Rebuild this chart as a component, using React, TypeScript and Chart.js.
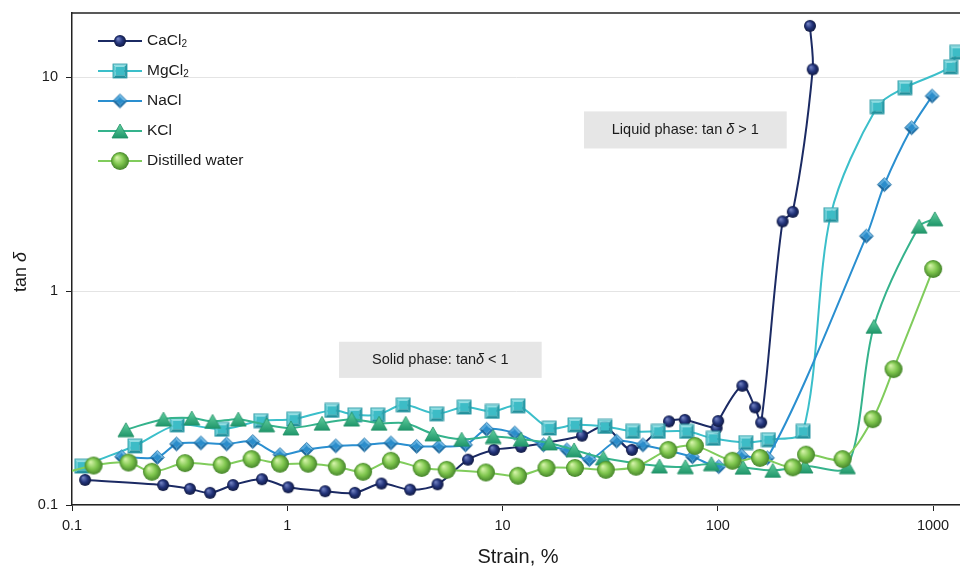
import React, { useEffect, useRef } from 'react';
import { Chart, registerables } from 'chart.js';
Chart.register(...registerables);

const FONT = '"Liberation Sans", Arial, Helvetica, sans-serif';

// ---- Data ----
const caX = [0.115, 0.265, 0.353, 0.438, 0.56, 0.763, 1.01, 1.5, 2.06, 2.74, 3.72, 4.99, 6.91, 9.12, 12.2, 23.4, 29.9, 39.9, 59.3, 70.3, 98.7, 100.4, 130, 149, 159, 200, 223, 276, 268];
const caY = [0.131, 0.124, 0.119, 0.114, 0.124, 0.132, 0.121, 0.116, 0.114, 0.126, 0.118, 0.125, 0.163, 0.181, 0.187, 0.211, 0.233, 0.181, 0.246, 0.25, 0.229, 0.247, 0.361, 0.286, 0.243, 2.12, 2.35, 10.9, 17.4];

const mgX = [0.111, 0.196, 0.308, 0.496, 0.753, 1.07, 1.61, 2.06, 2.63, 3.46, 4.94, 6.64, 8.96, 11.8, 16.5, 21.7, 29.9, 40.2, 52.9, 71.6, 95.2, 135, 172, 249, 335, 550, 740, 1206, 1286];
const mgY = [0.152, 0.189, 0.237, 0.226, 0.248, 0.252, 0.277, 0.264, 0.264, 0.294, 0.267, 0.287, 0.274, 0.291, 0.229, 0.237, 0.233, 0.221, 0.221, 0.221, 0.205, 0.196, 0.202, 0.221, 2.28, 7.29, 8.95, 11.2, 13.1];

const naX = [0.17, 0.249, 0.306, 0.397, 0.523, 0.691, 0.925, 1.23, 1.68, 2.28, 3.03, 3.99, 5.07, 6.73, 8.44, 11.4, 15.5, 19.9, 25.3, 33.9, 44.9, 76.2, 101, 129, 170, 490, 594, 795, 990];
const naY = [0.168, 0.167, 0.193, 0.195, 0.193, 0.198, 0.172, 0.182, 0.189, 0.191, 0.195, 0.188, 0.188, 0.191, 0.226, 0.217, 0.191, 0.181, 0.163, 0.199, 0.191, 0.168, 0.151, 0.17, 0.166, 1.81, 3.15, 5.81, 8.18];

const kX = [0.178, 0.266, 0.36, 0.45, 0.592, 0.802, 1.04, 1.45, 1.99, 2.67, 3.55, 4.75, 6.46, 9.05, 12.2, 16.5, 21.5, 29.4, 53.6, 70.7, 93.4, 131, 180, 254, 400, 531, 862, 1019];
const kY = [0.225, 0.252, 0.255, 0.246, 0.252, 0.237, 0.229, 0.241, 0.252, 0.241, 0.241, 0.215, 0.203, 0.209, 0.203, 0.195, 0.181, 0.166, 0.152, 0.151, 0.156, 0.15, 0.145, 0.152, 0.151, 0.684, 2.01, 2.18];

const wX = [0.085, 0.126, 0.183, 0.235, 0.335, 0.496, 0.683, 0.925, 1.25, 1.7, 2.25, 3.03, 4.21, 5.5, 8.37, 11.8, 16.0, 21.7, 30.2, 41.7, 58.9, 78.3, 117, 157, 223, 257, 380, 524, 655, 1001];
const wY = [0.138, 0.153, 0.158, 0.143, 0.157, 0.154, 0.164, 0.156, 0.156, 0.151, 0.143, 0.161, 0.149, 0.146, 0.142, 0.137, 0.149, 0.149, 0.146, 0.151, 0.181, 0.189, 0.161, 0.166, 0.15, 0.172, 0.164, 0.252, 0.432, 1.27];

const seriesNames = ['CaCl', 'MgCl', 'NaCl', 'KCl', 'Distilled water'];
const seriesSubs = ['2', '2', '', '', ''];
const xTicks = [0.1, 1, 10, 100, 1000];
const yTicks = [0.1, 1, 10];
const xRange = [0.1, 1334];
const yRange = [0.1, 20];
const liquidBox = { x: [23.9, 209], y: [4.65, 6.93] };
const solidBox = { x: [1.74, 15.2], y: [0.393, 0.58] };

const colors = ['#1b2a63', '#3bbfca', '#2a8fd0', '#35b38c', '#80cc5c'];

function mk(w: number, h: number) {
  const c = document.createElement('canvas');
  c.width = w; c.height = h;
  return c;
}

function sphere(d: number, light: string, mid: string, dark: string) {
  const s = d + 2;
  const c = mk(s, s);
  const ctx = c.getContext('2d')!;
  const cx = s / 2, r = d / 2;
  const g = ctx.createRadialGradient(cx - r * 0.35, cx - r * 0.4, r * 0.05, cx, cx, r);
  g.addColorStop(0, light);
  g.addColorStop(0.55, mid);
  g.addColorStop(1, dark);
  ctx.beginPath();
  ctx.arc(cx, cx, r, 0, Math.PI * 2);
  ctx.fillStyle = g;
  ctx.fill();
  return c;
}

function bevel(side: number, rot: boolean, base: string, top: string, left: string, right: string, bottom: string, edge: string) {
  const diag = rot ? side * Math.SQRT2 : side;
  const s = Math.ceil(diag) + 2;
  const c = mk(s, s);
  const ctx = c.getContext('2d')!;
  ctx.translate(s / 2, s / 2);
  if (rot) ctx.rotate(Math.PI / 4);
  const h = side / 2, b = side * 0.2;
  const poly = (pts: number[][], col: string) => {
    ctx.beginPath();
    ctx.moveTo(pts[0][0], pts[0][1]);
    for (let i = 1; i < pts.length; i++) ctx.lineTo(pts[i][0], pts[i][1]);
    ctx.closePath();
    ctx.fillStyle = col;
    ctx.fill();
  };
  poly([[-h, -h], [h, -h], [h - b, -h + b], [-h + b, -h + b]], top);
  poly([[-h, -h], [-h + b, -h + b], [-h + b, h - b], [-h, h]], left);
  poly([[h, -h], [h, h], [h - b, h - b], [h - b, -h + b]], right);
  poly([[-h, h], [h, h], [h - b, h - b], [-h + b, h - b]], bottom);
  ctx.fillStyle = base;
  ctx.fillRect(-h + b, -h + b, side - 2 * b, side - 2 * b);
  ctx.strokeStyle = edge;
  ctx.lineWidth = 0.8;
  ctx.strokeRect(-h, -h, side, side);
  return c;
}

function triangle(w: number, h: number, light: string, dark: string, edge: string) {
  const c = mk(w + 2, h + 2);
  const ctx = c.getContext('2d')!;
  const g = ctx.createLinearGradient(0, 1, 0, h + 1);
  g.addColorStop(0, light);
  g.addColorStop(1, dark);
  ctx.beginPath();
  ctx.moveTo((w + 2) / 2, 1);
  ctx.lineTo(w + 1, h + 1);
  ctx.lineTo(1, h + 1);
  ctx.closePath();
  ctx.fillStyle = g;
  ctx.fill();
  ctx.strokeStyle = edge;
  ctx.lineWidth = 0.8;
  ctx.stroke();
  return c;
}

function buildMarkers() {
  return [
    sphere(12, '#7484c4', '#24357c', '#0f1840'),
    bevel(14, false, '#3dbcc6', '#8fdde2', '#62cbd3', '#2a9fab', '#22909b', '#2795a0'),
    bevel(10, true, '#2b8dcb', '#74bde8', '#4fa7dc', '#1f73aa', '#1b6598', '#1f6fa5'),
    triangle(16, 14, '#62d0a0', '#20966a', '#1f8f64'),
    sphere(18, '#d4f3a8', '#7fc64e', '#45852a'),
  ];
}

export default function App() {
  const ref = useRef<HTMLCanvasElement>(null);

  useEffect(() => {
    const canvas = ref.current!;
    const markers = buildMarkers();
    const toPts = (xs: number[], ys: number[]) => xs.map((x, i) => ({ x, y: ys[i] }));
    const allX = [caX, mgX, naX, kX, wX];
    const allY = [caY, mgY, naY, kY, wY];
    const datasets = allX.map((xs, i) => ({
      label: seriesNames[i] + seriesSubs[i],
      data: toPts(xs, allY[i]),
      borderColor: colors[i],
      backgroundColor: colors[i],
      borderWidth: 2,
      tension: 0.3,
      pointStyle: markers[i] as any,
      pointRadius: (ctx: any) => (ctx.raw && ctx.raw.x < xRange[0] ? 0 : 7),
      pointHoverRadius: 7,
      order: 5 - i,
      clip: { left: 0, top: 30, right: 30, bottom: 30 } as any,
    }));

    const setFont = (ctx: CanvasRenderingContext2D, size: number, italic = false) => {
      ctx.font = `${italic ? 'italic ' : ''}${size}px ${FONT}`;
    };

    const drawMixed = (ctx: CanvasRenderingContext2D, parts: [string, boolean][], size: number, x: number, y: number, align: 'left' | 'center') => {
      let total = 0;
      const widths = parts.map(([t, it]) => { setFont(ctx, size, it); const w = ctx.measureText(t).width; total += w; return w; });
      let cx = align === 'center' ? x - total / 2 : x;
      ctx.textAlign = 'left';
      ctx.textBaseline = 'middle';
      parts.forEach(([t, it], i) => {
        setFont(ctx, size, it);
        ctx.fillText(t, cx, y);
        cx += widths[i];
      });
    };

    const overlay = {
      id: 'overlay',
      beforeDatasetsDraw(chart: any) {
        const ctx: CanvasRenderingContext2D = chart.ctx;
        const xs = chart.scales.x, ys = chart.scales.y;
        const boxes = [
          { b: liquidBox, parts: [['Liquid phase: tan ', false], ['δ', true], [' > 1', false]] as [string, boolean][] },
          { b: solidBox, parts: [['Solid phase: tan', false], ['δ', true], [' < 1', false]] as [string, boolean][] },
        ];
        ctx.save();
        boxes.forEach(({ b, parts }) => {
          const x0 = xs.getPixelForValue(b.x[0]);
          const x1 = xs.getPixelForValue(b.x[1]);
          const y0 = ys.getPixelForValue(b.y[1]);
          const y1 = ys.getPixelForValue(b.y[0]);
          ctx.fillStyle = '#e6e6e6';
          ctx.fillRect(x0, y0, x1 - x0, y1 - y0);
          ctx.fillStyle = '#1a1a1a';
          drawMixed(ctx, parts, 14.5, (x0 + x1) / 2, (y0 + y1) / 2, 'center');
        });
        ctx.restore();
      },
      afterDraw(chart: any) {
        const ctx: CanvasRenderingContext2D = chart.ctx;
        const ca = chart.chartArea;
        ctx.save();
        // top border
        ctx.strokeStyle = '#222';
        ctx.lineWidth = 1.5;
        ctx.beginPath();
        ctx.moveTo(ca.left, ca.top);
        ctx.lineTo(chart.width, ca.top);
        ctx.stroke();
        // legend
        seriesNames.forEach((name, i) => {
          const y = ca.top + 28 + 30 * i;
          const lx = ca.left + 26;
          ctx.strokeStyle = colors[i];
          ctx.lineWidth = 2;
          ctx.beginPath();
          ctx.moveTo(lx, y);
          ctx.lineTo(lx + 44, y);
          ctx.stroke();
          const m = markers[i];
          ctx.drawImage(m, lx + 22 - m.width / 2, y - m.height / 2);
          ctx.fillStyle = '#1a1a1a';
          setFont(ctx, 15.5);
          ctx.textAlign = 'left';
          ctx.textBaseline = 'middle';
          ctx.fillText(name, lx + 49, y);
          if (seriesSubs[i]) {
            const w = ctx.measureText(name).width;
            setFont(ctx, 10);
            ctx.fillText(seriesSubs[i], lx + 49 + w, y + 3);
          }
        });
        // x title
        ctx.fillStyle = '#1a1a1a';
        setFont(ctx, 20);
        ctx.textAlign = 'center';
        ctx.textBaseline = 'middle';
        ctx.fillText('Strain, %', 518, 557);
        // y title
        ctx.translate(21, 272);
        ctx.rotate(-Math.PI / 2);
        drawMixed(ctx, [['tan ', false], ['δ', true]], 18, 0, 0, 'center');
        ctx.restore();
      },
    };

    const zeroPad = (s: any) => { s.paddingTop = 0; s.paddingBottom = 0; s.paddingLeft = 0; s.paddingRight = 0; };
    const tickFont = { family: FONT, size: 14.5 };
    const chart = new Chart(canvas, {
      type: 'line',
      data: { datasets: datasets as any },
      options: {
        responsive: false,
        animation: false,
        events: [],
        layout: { autoPadding: false, padding: { top: 13, right: 0, left: 0, bottom: 0 } },
        plugins: { legend: { display: false }, tooltip: { enabled: false } },
        scales: {
          x: {
            type: 'logarithmic',
            min: xRange[0],
            max: xRange[1],
            afterBuildTicks: (s: any) => { s.ticks = xTicks.map((v) => ({ value: v })); },
            afterFit: (s: any) => { s.height = 63; zeroPad(s); },
            grid: { drawOnChartArea: false, drawTicks: true, tickLength: 6, tickColor: '#222', tickWidth: 1 },
            border: { display: true, color: '#222', width: 1.5 },
            ticks: { font: tickFont, color: '#1a1a1a', padding: 6, autoSkip: false, maxRotation: 0, callback: (v: any) => String(v) },
          },
          y: {
            type: 'logarithmic',
            min: yRange[0],
            max: yRange[1],
            afterBuildTicks: (s: any) => { s.ticks = yTicks.map((v) => ({ value: v })); },
            afterFit: (s: any) => { s.width = 72; zeroPad(s); },
            grid: { color: '#e4e4e4', lineWidth: 1, drawTicks: true, tickLength: 6, tickColor: '#222', tickWidth: 1 },
            border: { display: true, color: '#222', width: 1.5 },
            ticks: { font: tickFont, color: '#1a1a1a', padding: 8, autoSkip: false, callback: (v: any) => String(v) },
          },
        },
      },
      plugins: [overlay],
    });
    return () => chart.destroy();
  }, []);

  return (
    <div style={{ position: 'fixed', left: 0, top: 0, width: 960, height: 568, background: '#fff' }}>
      <canvas ref={ref} width={960} height={568} style={{ width: 960, height: 568, display: 'block' }} />
    </div>
  );
}
